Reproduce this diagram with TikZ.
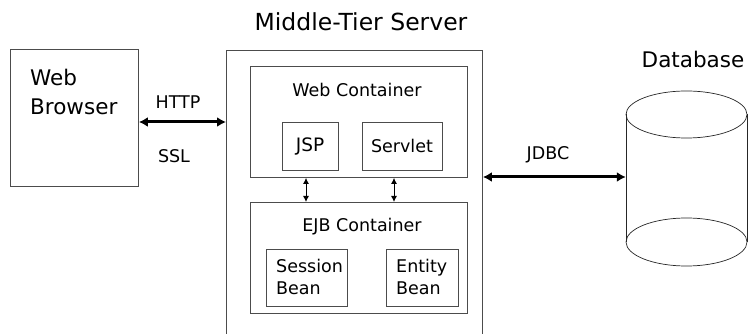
\documentclass[tikz,border=0pt]{standalone}
\usepackage{fontspec}
\setmainfont{DejaVu Sans}
\usetikzlibrary{arrows.meta}
\begin{document}
\begin{tikzpicture}[x=1pt,y=-1pt,
  box/.style={draw=black!70,line width=0.9pt,inner sep=0pt,anchor=north west},
  cyl/.style={draw=black!85,line width=0.7pt},
  big/.style={font=\fontsize{21.5}{29}\selectfont,inner sep=0pt},
  lbl/.style={font=\fontsize{17.5}{22}\selectfont,inner sep=0pt},
  thick arrow/.style={line width=3pt,{Latex[length=9pt,width=10pt]}-{Latex[length=9pt,width=10pt]}},
  thin arrow/.style={line width=0.9pt,{Latex[length=6pt,width=6pt]}-{Latex[length=6pt,width=6pt]}}]
\useasboundingbox (0,0) rectangle (748,334);
% boxes
\node[box,minimum width=128pt,minimum height=137pt] (wb) at (10,49) {};
\node[box,minimum width=256pt,minimum height=290pt] (mt) at (226,50) {};
\node[box,minimum width=217pt,minimum height=111pt] (wc) at (250,66) {};
\node[box,minimum width=56pt,minimum height=48pt] (jsp) at (282,122) {};
\node[box,minimum width=80pt,minimum height=48pt] (srv) at (362,122) {};
\node[box,minimum width=217pt,minimum height=111pt] (ejb) at (250,202) {};
\node[box,minimum width=81pt,minimum height=57pt] (sb) at (266,249) {};
\node[box,minimum width=72pt,minimum height=57pt] (eb) at (386,249) {};
% database cylinder
\node[inner sep=0pt,minimum width=121pt,minimum height=175pt] (db) at (686.5,178.5) {};
\draw[cyl] (686.5,114.5) ellipse[x radius=60.5,y radius=23.5];
\draw[cyl] (686.5,242) ellipse[x radius=60.5,y radius=24];
\draw[cyl] (626,114.5) -- (626,242);
\draw[cyl] (747,114.5) -- (747,242);
% texts
\node[big,anchor=west,align=left] (wbt) at (30,92) {Web\\Browser};
\node[big,font=\fontsize{23.5}{29}\selectfont] (mtt) at (361,22) {Middle-Tier Server};
\node[big] (dbt) at (693,59) {Database};
\node[lbl] (wct) at (357,90) {Web Container};
\node[lbl,font=\fontsize{18.5}{22}\selectfont] (jspt) at (310,146) {JSP};
\node[lbl] (srvt) at (402,146) {Servlet};
\node[lbl] (ejbt) at (362,227) {EJB Container};
\node[lbl,anchor=west,align=left] (sbt) at (276,277) {Session\\Bean};
\node[lbl,anchor=west,align=left] (ebt) at (396,277) {Entity\\Bean};
\node[lbl] (http) at (178,102) {HTTP};
\node[lbl] (ssl) at (174,156) {SSL};
\node[lbl] (jdbc) at (548,155) {JDBC};
% connectors
\coordinate (a1) at (wb.east |- 0,122);
\coordinate (a2) at (mt.west |- 0,122);
\draw[thick arrow] (a1) -- (a2);
\coordinate (b1) at (mt.east |- 0,177);
\coordinate (b2) at (db.west |- 0,177);
\draw[thick arrow] (b1) -- (b2);
\draw[thin arrow] (wc.south -| 306,0) -- (ejb.north -| 306,0);
\draw[thin arrow] (wc.south -| 394,0) -- (ejb.north -| 394,0);
\end{tikzpicture}
\end{document}
